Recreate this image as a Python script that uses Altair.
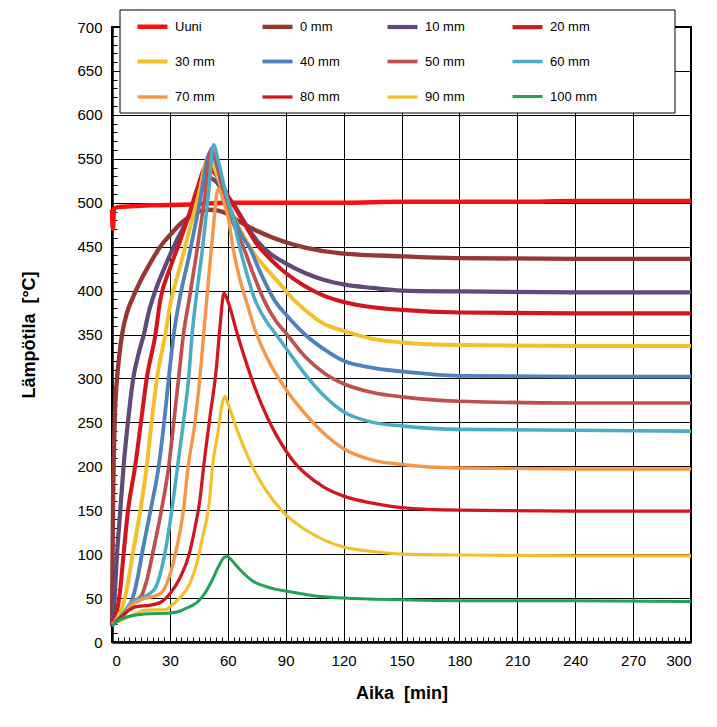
import altair as alt
import pandas as pd

series = ["Uuni", "0 mm", "10 mm", "20 mm", "30 mm", "40 mm", "50 mm", "60 mm",
          "70 mm", "80 mm", "90 mm", "100 mm"]
colors = ["#F81010", "#953735", "#604A7B", "#D2161E", "#F4C02A", "#4F81BD", "#C0504D",
          "#4BACC6", "#F79646", "#D2161E", "#F4C02A", "#21A25A"]
widths = [4.5, 3, 3, 3, 3, 3, 3, 3, 3, 3, 3, 3]

uuni_t = [0, 0.5, 1, 3, 10, 20, 40, 60, 90, 120, 150, 180, 210, 240, 270, 300]
uuni_T = [492, 470, 493, 495, 496, 497, 498, 500, 500, 500, 501, 501, 501, 502, 502, 502]

mm0_t = [0, 0.3, 0.6, 1, 1.5, 2.6, 4, 5.2, 7.8, 10.4, 15, 20, 25, 30, 35, 40, 45, 50, 55, 60, 65, 75, 90, 100, 120, 150, 180, 240, 300]
mm0_T = [18, 100, 170, 220, 260, 300, 330, 350, 375, 390, 412, 432, 450, 463, 475, 484, 490, 492, 491, 487, 480, 468, 455, 449, 442, 439, 437, 436, 436]

mm10_t = [0, 1, 2.6, 4.3, 6, 8, 11, 14, 16.5, 19, 22.5, 27, 32, 37, 42, 46, 50.5, 54, 58, 63, 68, 75, 82, 90, 100, 110, 120, 135, 150, 180, 240, 300]
mm10_T = [20, 40, 100, 150, 200, 245, 300, 330, 350, 375, 400, 425, 450, 472, 495, 512, 528, 524, 512, 498, 480, 457, 442, 431, 420, 412, 407, 403, 400, 399, 398, 398]

mm20_t = [0, 2, 4, 6, 8.3, 12, 15, 18, 22.5, 25, 30, 35, 40, 44, 49, 52, 56, 60, 65, 70, 75, 82, 90, 100, 110, 120, 135, 150, 180, 240, 300]
mm20_T = [20, 30, 55, 100, 150, 200, 250, 300, 350, 389, 425, 455, 487, 515, 542, 537, 525, 508, 490, 471, 453, 436, 420, 405, 394, 387, 381, 378, 375, 374, 374]

mm30_t = [0, 3, 6, 8.5, 10.7, 14.7, 18, 20.5, 23.3, 27.6, 30.5, 35, 40, 45, 50, 53, 56, 60, 65, 70, 75, 80, 88, 94, 100, 110, 120, 135, 150, 180, 240, 300]
mm30_T = [20, 28, 45, 70, 100, 150, 200, 250, 300, 350, 388, 425, 468, 510, 552, 540, 522, 500, 475, 455, 438, 425, 405, 390, 378, 362, 354, 345, 341, 338, 337, 337]

mm40_t = [0, 5, 10, 13, 15.5, 20, 24.2, 27, 29.4, 32, 35, 40, 45, 51, 54, 57, 60, 64, 68, 71.5, 76, 84.5, 90, 100, 110, 120, 135, 150, 180, 240, 300]
mm40_T = [20, 28, 45, 70, 100, 150, 200, 250, 300, 350, 390, 440, 495, 558, 545, 520, 500, 478, 460, 448, 425, 388, 373, 350, 333, 320, 312, 308, 303, 302, 302]

mm50_t = [0, 5, 10, 15, 18, 21, 25.6, 29.4, 32, 34.5, 37, 40, 44, 48, 51.5, 54, 57, 60, 64, 68, 73, 79, 85, 90, 100, 110, 120, 135, 150, 180, 240, 300]
mm50_T = [20, 30, 45, 52, 70, 100, 150, 200, 250, 300, 350, 390, 445, 505, 562, 548, 520, 495, 470, 450, 420, 388, 365, 352, 325, 306, 294, 284, 279, 274, 272, 272]

mm60_t = [0, 5, 10, 15, 22, 27.3, 31, 34, 37, 39.7, 41.5, 43.5, 47, 50, 52.5, 55, 58, 61, 63, 65, 70, 74, 80, 85, 90, 100, 110, 120, 135, 150, 180, 240, 300]
mm60_T = [20, 30, 45, 50, 60, 100, 150, 200, 250, 300, 350, 390, 450, 510, 566, 548, 520, 495, 480, 460, 418, 390, 365, 350, 335, 305, 280, 262, 250, 246, 242, 241, 240]

mm70_t = [0, 5, 10, 15, 25, 29, 32.8, 37, 39.5, 43, 45.5, 47.5, 49.5, 52, 55, 58, 60, 63, 66, 70, 74, 80, 90, 100, 110, 120, 135, 150, 180, 240, 300]
mm70_T = [20, 28, 42, 48, 55, 70, 100, 150, 200, 250, 300, 350, 400, 460, 516, 500, 485, 445, 415, 385, 356, 325, 288, 260, 237, 220, 207, 202, 198, 197, 197]

mm80_t = [0, 3, 8, 12, 20, 25, 30, 35, 40, 43, 45.5, 47.5, 51, 54, 56, 58, 60, 65, 70, 75, 80, 85, 90, 95, 100, 110, 120, 135, 150, 180, 240, 300]
mm80_T = [20, 25, 35, 40, 42, 45, 55, 72, 100, 130, 161, 200, 260, 310, 360, 397, 388, 350, 315, 284, 258, 236, 218, 203, 192, 176, 166, 158, 153, 150, 149, 149]

mm90_t = [0, 5, 10, 17, 28, 30, 35, 40, 44, 47, 50.5, 52, 55, 57, 58.5, 60, 65, 70, 75, 80, 90, 100, 110, 120, 135, 150, 180, 240, 300]
mm90_T = [20, 25, 30, 36, 37, 40, 50, 65, 90, 120, 161, 198, 240, 270, 280, 272, 240, 213, 190, 172, 145, 128, 116, 108, 103, 100, 99, 98, 98]

mm100_t = [0, 3, 8.6, 17, 30, 35, 38, 42, 45, 48, 51.8, 55, 58.7, 60, 62, 66, 72.5, 83, 93, 103.6, 120, 150, 180, 240, 300]
mm100_T = [18, 24, 29, 32, 33, 35, 38, 42, 47, 55, 70, 85, 97, 97, 93, 83, 70, 61, 57, 53, 50, 48, 47, 47, 46]

x_major = list(range(0, 301, 30))
y_major = list(range(0, 701, 50))
x_minor = list(range(0, 301, 3))
y_minor = list(range(0, 701, 10))

all_t = [uuni_t, mm0_t, mm10_t, mm20_t, mm30_t, mm40_t, mm50_t, mm60_t, mm70_t, mm80_t, mm90_t, mm100_t]
all_T = [uuni_T, mm0_T, mm10_T, mm20_T, mm30_T, mm40_T, mm50_T, mm60_T, mm70_T, mm80_T, mm90_T, mm100_T]

rows = []
for name, ts, Ts in zip(series, all_t, all_T):
    for t, T in zip(ts, Ts):
        rows.append({"series": name, "t": t, "T": T})
df = pd.DataFrame(rows)

W, H = 579, 615
NARROW = "Liberation Sans Narrow, Arial Narrow, Liberation Sans, Arial"

xscale = alt.Scale(domain=[0, 300], nice=False, zero=False)
yscale = alt.Scale(domain=[0, 700], nice=False)

lines = alt.Chart(df).mark_line(interpolate="monotone").encode(
    x=alt.X("t:Q", scale=xscale, axis=alt.Axis(
        values=x_major, title="Aika\u00a0\u00a0[min]", grid=True, ticks=False,
        domain=True, domainColor="black", domainWidth=2.5,
        labelFont=NARROW, labelFontSize=15, labelPadding=11,
        titleFont=NARROW, titleFontSize=18, titleFontWeight="bold", titlePadding=16)),
    y=alt.Y("T:Q", scale=yscale, axis=alt.Axis(
        values=y_major, title="Lämpötila\u00a0\u00a0[°C]", grid=True, ticks=False,
        domain=True, domainColor="black", domainWidth=2.5,
        labelFont=NARROW, labelFontSize=15, labelPadding=10,
        titleFont=NARROW, titleFontSize=18, titleFontWeight="bold", titlePadding=38)),
    color=alt.Color("series:N", sort=series,
                    scale=alt.Scale(domain=series, range=colors),
                    legend=alt.Legend(
                        title=None, orient="none", legendX=23, legendY=-18,
                        direction="horizontal",
                        columns=4, symbolType="stroke", symbolSize=900,
                        symbolStrokeWidth=4, labelFont="Liberation Sans, Arial",
                        labelFontSize=13, labelColor="black", labelOffset=5,
                        rowPadding=8.5, columnPadding=31, gridAlign="all",
                        padding=0)),
    strokeWidth=alt.StrokeWidth("series:N", sort=series,
                                scale=alt.Scale(domain=series, range=widths),
                                legend=None),
)

minor = alt.Chart(df).mark_line(opacity=0).encode(
    x=alt.X("t:Q", scale=xscale, axis=alt.Axis(
        orient="top", offset=-H, values=x_minor, labels=False, grid=False,
        domain=False, ticks=True, tickSize=5, tickColor="black", tickWidth=1,
        title=None)),
    y=alt.Y("T:Q", scale=yscale, axis=alt.Axis(
        orient="right", offset=-W, values=y_minor, labels=False, grid=False,
        domain=False, ticks=True, tickSize=5, tickColor="black", tickWidth=1,
        title=None)),
)

frame = alt.Chart(pd.DataFrame({"k": [0]})).mark_rect(
    fill="white", stroke="black", strokeWidth=1
).encode(x=alt.value(8), x2=alt.value(563), y=alt.value(-17), y2=alt.value(86))

chart = alt.layer(lines, minor, frame).resolve_axis(
    x="independent", y="independent"
).properties(
    width=W, height=H,
    padding={"left": 104, "top": 19, "right": 18, "bottom": 77},
    autosize=alt.AutoSizeParams(type="none"),
    background="white",
).configure_view(
    stroke="black", strokeWidth=2
).configure_axis(
    gridColor="black", gridWidth=1, gridOpacity=1,
    labelColor="black", titleColor="black",
)

chart.save("out.html", embed_options={"renderer": "svg", "actions": False})
